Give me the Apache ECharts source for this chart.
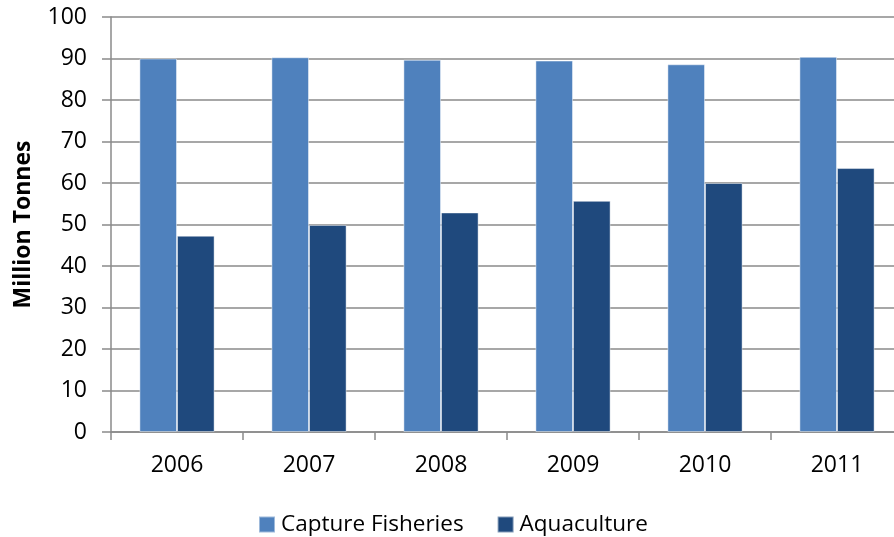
<!DOCTYPE html>
<html>
<head>
<meta charset="utf-8">
<script src="https://cdn.jsdelivr.net/npm/echarts@6/dist/echarts.min.js"></script>
<style>
html,body{margin:0;padding:0;background:#fff;overflow:hidden;}
/* the plot in the reference runs a little past the right edge, so the canvas is wider than the window */
#chart{width:903px;height:537px;}
</style>
</head>
<body>
<div id="chart"></div>
<script>
var years = ["2006","2007","2008","2009","2010","2011"];
var captureFisheries = [90.0, 90.3, 89.7, 89.5, 88.6, 90.4];
var aquaculture = [47.3, 49.9, 52.9, 55.7, 60.0, 63.6];
var yTicks = {min: 0, max: 100, interval: 10};

var fontName = "Open Sans";
var gridColor = "#8a8a8a";

var chart = echarts.init(document.getElementById("chart"));
var option = {
	backgroundColor: "#fff",
	animation: false,
	textStyle: {fontFamily: fontName, color: "#000"},
	grid: {left: 111, top: 17, bottom: 105, right: 0},
	legend: {
		left: 258,
		top: 513,
		padding: 0,
		itemWidth: 16,
		itemHeight: 16,
		itemGap: 33,
		icon: "rect",
		textStyle: {fontSize: 22.5, fontFamily: fontName, color: "#000", lineHeight: 22, padding: [0,0,0,1]},
		data: ["Capture Fisheries","Aquaculture"]
	},
	xAxis: {
		type: "category",
		data: years,
		axisLine: {lineStyle: {color: gridColor, width: 1.5}},
		axisTick: {show: true, length: 8, lineStyle: {color: gridColor, width: 1.5}},
		axisLabel: {fontSize: 23, color: "#000", margin: 22, fontFamily: fontName},
		splitLine: {show: false}
	},
	yAxis: {
		type: "value",
		min: yTicks.min,
		max: yTicks.max,
		interval: yTicks.interval,
		name: "Million Tonnes",
		nameLocation: "middle",
		nameRotate: 90,
		nameGap: 76,
		nameTextStyle: {fontSize: 23, fontWeight: "bold", color: "#000", fontFamily: fontName},
		axisLine: {show: true, lineStyle: {color: gridColor, width: 1.5}},
		axisTick: {show: true, length: 9, lineStyle: {color: gridColor, width: 1.5}},
		axisLabel: {fontSize: 23, color: "#000", margin: 24, fontFamily: fontName},
		splitLine: {show: true, lineStyle: {color: gridColor, width: 1.5}}
	},
	series: [
		{
			name: "Capture Fisheries",
			type: "bar",
			data: captureFisheries,
			barWidth: 37.6,
			barGap: "0%",
			itemStyle: {color: "#4F81BD", borderColor: "rgba(255,255,255,0.45)", borderWidth: 1}
		},
		{
			name: "Aquaculture",
			type: "bar",
			data: aquaculture,
			barWidth: 37.6,
			barGap: "0%",
			itemStyle: {color: "#1F497D", borderColor: "rgba(255,255,255,0.45)", borderWidth: 1}
		}
	]
};
chart.setOption(option);
</script>
</body>
</html>
